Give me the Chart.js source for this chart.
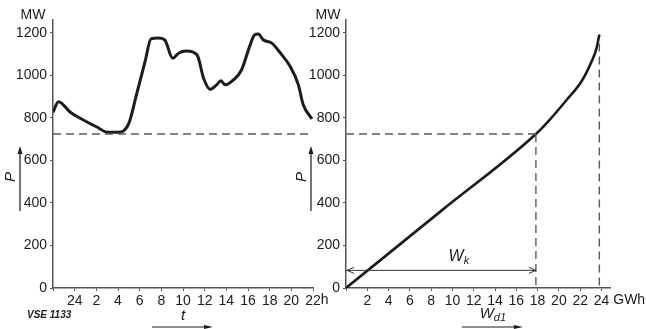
<!DOCTYPE html>
<html>
<head>
<meta charset="utf-8">
<script src="https://cdn.jsdelivr.net/npm/chart.js@4.4.1/dist/chart.umd.min.js"></script>
<style>
  html, body { margin: 0; padding: 0; background: #fff; }
  #wrap { position: relative; width: 646px; height: 329px; }
  #wrap canvas { position: absolute; left: 0; top: 0; }
</style>
</head>
<body>
<div id="wrap">
  <canvas id="chartLast" width="646" height="329"></canvas>
  <canvas id="chartDauer" width="646" height="329"></canvas>
</div>
<script>
// Tageslastkurve (links): Stunden ab 22 Uhr des Vortages
const stunden = [0, 0.5, 1.6, 2.8, 4.0, 5.1, 6.0, 7.0, 7.7, 8.5, 9.05, 9.7, 10.3, 11.05, 11.6, 12.3, 13.3, 13.9, 14.5, 15.1, 15.5, 15.9, 16.65, 17.4, 18.2, 18.6, 18.95, 19.4, 20.2, 21.0, 21.9, 22.65, 23.1, 23.9];
const lastMW  = [826, 876, 826, 790, 758, 732, 732, 774, 908, 1065, 1171, 1175, 1167, 1080, 1104, 1114, 1096, 986, 934, 955, 974, 955, 978, 1025, 1143, 1190, 1194, 1167, 1151, 1104, 1041, 955, 861, 795];

// Dauerlinie (rechts)
const energieGWh = [0, 9, 17.84, 19.15, 20.72, 22.13, 23.07, 23.54, 23.8];
const dauerMW    = [0, 365, 724, 792, 884, 972, 1065, 1128, 1192];

const grundlastMW = 724;
const wkGWh = 17.84;
const tagesGWh = 23.8;
const wkPfeilMW = 83;

const leistungTicks = [0, 200, 400, 600, 800, 1000, 1200];
const stundenTicks  = [0, 2, 4, 6, 8, 10, 12, 14, 16, 18, 20, 22, 24];
const stundenLabels = ['', '24', '2', '4', '6', '8', '10', '12', '14', '16', '18', '20', '22'];
const energieTicks  = [0, 2, 4, 6, 8, 10, 12, 14, 16, 18, 20, 22, 24];
const energieLabels = ['', '2', '4', '6', '8', '10', '12', '14', '16', '18', '20', '22', '24'];

const ink = '#1c1c1c';
const achse = '#555';
const strich = '#5a5a5a';
const schrift = '"Liberation Sans", Arial, sans-serif';
const tickFont = { family: schrift, size: 14 };

const punkte = (xs, ys) => xs.map((v, i) => ({ x: v, y: ys[i] }));

function pfeil(ctx, x1, y1, x2, y2, len, breite) {
  const a = Math.atan2(y2 - y1, x2 - x1);
  ctx.beginPath();
  ctx.moveTo(x1, y1);
  ctx.lineTo(x2 - Math.cos(a) * len * 0.6, y2 - Math.sin(a) * len * 0.6);
  ctx.stroke();
  ctx.beginPath();
  ctx.moveTo(x2, y2);
  ctx.lineTo(x2 - Math.cos(a) * len + Math.sin(a) * breite, y2 - Math.sin(a) * len - Math.cos(a) * breite);
  ctx.lineTo(x2 - Math.cos(a) * len - Math.sin(a) * breite, y2 - Math.sin(a) * len + Math.cos(a) * breite);
  ctx.closePath();
  ctx.fill();
}

function offeneSpitze(ctx, x, y, richtung) {
  ctx.beginPath();
  ctx.moveTo(x - richtung * 7, y - 3);
  ctx.lineTo(x, y);
  ctx.lineTo(x - richtung * 7, y + 3);
  ctx.stroke();
}

function kursivMitIndex(ctx, x, y, haupt, index, gross, klein) {
  ctx.font = 'italic ' + gross + 'px ' + schrift;
  const w1 = ctx.measureText(haupt).width;
  ctx.font = 'italic ' + klein + 'px ' + schrift;
  const w2 = ctx.measureText(index).width;
  const start = x - (w1 + w2) / 2;
  ctx.textAlign = 'left';
  ctx.font = 'italic ' + gross + 'px ' + schrift;
  ctx.fillText(haupt, start, y);
  ctx.font = 'italic ' + klein + 'px ' + schrift;
  ctx.fillText(index, start + w1, y + 4);
}

const beschriftung = {
  id: 'beschriftung',
  afterDraw(chart, args, opts) {
    const { ctx, chartArea: a, scales: { x, y } } = chart;
    ctx.save();
    ctx.fillStyle = ink;
    ctx.strokeStyle = ink;
    ctx.lineWidth = 1.2;
    ctx.textBaseline = 'middle';

    // MW oben
    ctx.font = '14px ' + schrift;
    ctx.textAlign = 'center';
    ctx.fillText('MW', a.left + opts.mwDx, 15);

    // P mit Pfeil
    const px = a.left + opts.pDx;
    pfeil(ctx, px, 211, px, 146, 8, 2.5);
    ctx.save();
    ctx.translate(px - 9, 177);
    ctx.rotate(-Math.PI / 2);
    ctx.font = 'italic 15px ' + schrift;
    ctx.fillText('P', 0, 0);
    ctx.restore();

    // Einheit nach letztem Tick
    ctx.font = '14px ' + schrift;
    const xl = x.getPixelForValue(opts.letzterTick);
    const wl = ctx.measureText(opts.letztesLabel).width;
    ctx.textAlign = 'left';
    ctx.fillText(opts.einheit, xl + wl / 2 + opts.einheitAbstand, 300);

    // Variable mit Pfeil unten
    const vx = x.getPixelForValue(opts.variableBei);
    ctx.lineWidth = 1;
    pfeil(ctx, vx - 31, 327, vx + 30, 327, 9, 2);
    if (opts.variableIndex) {
      kursivMitIndex(ctx, vx, 314, opts.variable, opts.variableIndex, 15, 11);
    } else {
      ctx.textAlign = 'center';
      ctx.font = 'italic 15px ' + schrift;
      ctx.fillText(opts.variable, vx, 316);
    }

    if (opts.kennung) {
      ctx.textAlign = 'left';
      ctx.font = 'italic bold 10px ' + schrift;
      ctx.fillText(opts.kennung, 27, 315);
    }

    if (opts.wk) {
      const x0 = x.getPixelForValue(0);
      const x1 = x.getPixelForValue(wkGWh);
      const yw = y.getPixelForValue(wkPfeilMW);
      ctx.strokeStyle = '#333';
      ctx.lineWidth = 1;
      offeneSpitze(ctx, x0 + 1, yw, -1);
      offeneSpitze(ctx, x1, yw, 1);
      ctx.fillStyle = ink;
      kursivMitIndex(ctx, x.getPixelForValue(10.6), 257, 'W', 'k', 16, 11);
    }
    ctx.restore();
  }
};

function yAchse(breite) {
  return {
    type: 'linear', min: 0, max: 1260,
    afterBuildTicks: s => { s.ticks = leistungTicks.map(v => ({ value: v })); },
    afterFit: s => { s.width = breite; },
    ticks: { color: ink, font: tickFont, padding: 3, callback: v => String(v) },
    grid: { drawOnChartArea: false, tickLength: 3, color: achse },
    border: { color: achse, width: 1.5 }
  };
}

function xAchse(max, werte, labels) {
  return {
    type: 'linear', min: 0, max: max,
    afterBuildTicks: s => { s.ticks = werte.map(v => ({ value: v })); },
    afterFit: s => { s.height = 41; },
    ticks: { color: ink, font: tickFont, padding: 2, maxRotation: 0, autoSkip: false,
             callback: (v, i) => labels[i] },
    grid: { drawOnChartArea: false, tickLength: 3, color: achse },
    border: { color: achse, width: 1.5 }
  };
}

const gestrichelt = (daten) => ({
  data: daten, borderColor: strich, borderWidth: 1.4, borderDash: [8, 5],
  pointRadius: 0, fill: false
});

const gemeinsam = {
  responsive: false,
  animation: false,
  devicePixelRatio: 1,
  events: [],
  plugins: { legend: { display: false }, tooltip: { enabled: false } }
};

new Chart(document.getElementById('chartLast'), {
  type: 'line',
  data: {
    datasets: [
      gestrichelt([{ x: 0, y: grundlastMW }, { x: 24, y: grundlastMW }]),
      {
        data: punkte(stunden, lastMW), borderColor: ink, borderWidth: 3,
        pointRadius: 0, cubicInterpolationMode: 'monotone', fill: false
      }
    ]
  },
  options: {
    ...gemeinsam,
    layout: { padding: { left: 0, right: 333, top: 20, bottom: 0 } },
    scales: { x: xAchse(24, stundenTicks, stundenLabels), y: yAchse(53) },
    plugins: {
      ...gemeinsam.plugins,
      beschriftung: {
        mwDx: -20, pDx: -33, letzterTick: 24, letztesLabel: '22',
        einheit: 'h', einheitAbstand: 0, variable: 't', variableBei: 12,
        kennung: 'VSE 1133'
      }
    }
  },
  plugins: [beschriftung]
});

new Chart(document.getElementById('chartDauer'), {
  type: 'line',
  data: {
    datasets: [
      gestrichelt([{ x: 0, y: grundlastMW }, { x: wkGWh, y: grundlastMW }]),
      gestrichelt([{ x: wkGWh, y: grundlastMW }, { x: wkGWh, y: 0 }]),
      gestrichelt([{ x: tagesGWh, y: 1150 }, { x: tagesGWh, y: 0 }]),
      {
        data: [{ x: 0, y: wkPfeilMW }, { x: wkGWh, y: wkPfeilMW }],
        borderColor: '#333', borderWidth: 1, pointRadius: 0, fill: false
      },
      {
        data: punkte(energieGWh, dauerMW), borderColor: ink, borderWidth: 2.6,
        pointRadius: 0, cubicInterpolationMode: 'monotone', fill: false
      }
    ]
  },
  options: {
    ...gemeinsam,
    layout: { padding: { left: 300, right: 36, top: 20, bottom: 0 } },
    scales: { x: xAchse(24.8, energieTicks, energieLabels), y: yAchse(46) },
    plugins: {
      ...gemeinsam.plugins,
      beschriftung: {
        mwDx: -18, pDx: -35, letzterTick: 24, letztesLabel: '24',
        einheit: 'GWh', einheitAbstand: 4, variable: 'W', variableIndex: 'd1',
        variableBei: 13.8, wk: true
      }
    }
  },
  plugins: [beschriftung]
});
</script>
</body>
</html>
